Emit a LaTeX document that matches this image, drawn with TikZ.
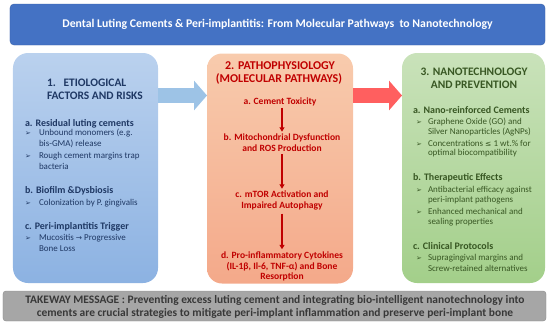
\documentclass[tikz,border=0pt]{standalone}
\usepackage{fontspec}
\setmainfont{Carlito}
\newfontfamily\symfont{DejaVu Sans}
\usetikzlibrary{arrows.meta}

\definecolor{headblue}{HTML}{4472C4}
\definecolor{bluetop}{HTML}{BAD1EE}
\definecolor{bluebot}{HTML}{8CB2E2}
\definecolor{bluetext}{HTML}{1F3864}
\definecolor{salmtop}{HTML}{F8CBAD}
\definecolor{salmbot}{HTML}{F4A98A}
\definecolor{redtext}{HTML}{C00000}
\definecolor{greentop}{HTML}{C9E2BA}
\definecolor{greenbot}{HTML}{A3CF8A}
\definecolor{greentext}{HTML}{385723}
\definecolor{arrowblue}{HTML}{9DC3E6}
\definecolor{arrowred}{HTML}{FF5F5F}
\definecolor{takegray}{HTML}{A6A6A6}

\begin{document}
\begin{tikzpicture}[x=1bp, y=-1bp, >=Stealth,
    every node/.style={inner sep=0pt, outer sep=0pt},
    panel/.style={rounded corners=15bp, minimum width=#1, minimum height=230bp},
    paneltitle/.style={font=\fontsize{11.5}{13}\selectfont\bfseries},
    heading/.style={font=\fontsize{10}{12}\selectfont\bfseries, anchor=base west},
    body/.style={font=\fontsize{9}{10}\selectfont, anchor=base west},
    bul/.style={font=\fontsize{7}{8}\selectfont\symfont, anchor=base west},
    pathstep/.style={font=\fontsize{9.6}{11}\selectfont\bfseries, text=redtext, anchor=base},
    blockarrow/.style={line width=15bp, draw=#1, -{Triangle[width=29bp, length=13bp]}}]

    \useasboundingbox (0,0) rectangle (550,324);

    % --- 1. title bar ---
    \node[fill=headblue, draw=headblue!85!black, rounded corners=4bp,
      minimum width=535bp, minimum height=41bp, text=white,
      font=\fontsize{11.8}{13}\selectfont\bfseries] (title) at (277.5,24.5)
      {Dental Luting Cements \& Peri-implantitis: From Molecular Pathways\ \ to Nanotechnology};

    % --- 2. the three panels ---
    \node[panel=145bp, top color=bluetop, bottom color=bluebot] (etiobox) at (85.5,168) {};
    \node[panel=146bp, top color=salmtop, bottom color=salmbot] (pathobox) at (280,168.5) {};
    \node[panel=143bp, top color=greentop, bottom color=greenbot] (nanobox) at (473.5,168) {};

    % --- 3. block arrows between panels ---
    \coordinate (arrowrow) at (0,95.5);
    \draw[blockarrow=arrowblue] (etiobox.east |- arrowrow) -- (pathobox.west |- arrowrow);
    \draw[blockarrow=arrowred] (pathobox.east |- arrowrow) -- (nanobox.west |- arrowrow);

    % --- 4. etiological factors ---
    \begin{scope}[every node/.append style={text=bluetext}]
      \node[paneltitle, anchor=base west] (etio1) at (47,86) {1.\ \ \ ETIOLOGICAL};
      \node[paneltitle, anchor=base west] (etio2) at (47,99) {FACTORS AND RISKS};
      \node[heading] (ea) at (25,126) {a. Residual luting cements};
      \node[heading] (eb) at (25,193) {b. Biofilm \&Dysbiosis};
      \node[heading] (ec) at (25,229) {c. Peri-implantitis Trigger};
      \foreach \y in {135,158,205,240}
        \node[bul] (eb\y) at (25,\y) {➢};
      \foreach \y/\t in {135/Unbound monomers (e.g., 146.5/bis-GMA) release,
          158/Rough cement margins trap, 169.5/bacteria,
          205/Colonization by P. gingivalis,
          240/Mucositis {\symfont\fontsize{7.5}{8}\selectfont →} Progressive, 251/Bone Loss}
        \node[body] (el\y) at (39,\y) {\t};
    \end{scope}

    % --- 5. molecular pathway chain ---
    \node[paneltitle, font=\fontsize{12}{13}\selectfont\bfseries, text=redtext, anchor=base] (patho1) at (280,69) {2. PATHOPHYSIOLOGY};
    \node[paneltitle, font=\fontsize{12}{13}\selectfont\bfseries, text=redtext, anchor=base] (patho2) at (279,82) {(MOLECULAR PATHWAYS)};
    \node[pathstep] (pa) at (280,104) {a. Cement Toxicity};
    \node[pathstep] (pb1) at (282,140.5) {b. Mitochondrial Dysfunction};
    \node[pathstep] (pb2) at (282,151) {and ROS Production};
    \node[pathstep] (pc1) at (282,197.5) {c. mTOR Activation and};
    \node[pathstep] (pc2) at (282,208.5) {Impaired Autophagy};
    \node[pathstep] (pd1) at (282,258) {d. Pro-inflammatory Cytokines};
    \node[pathstep] (pd2) at (282,269) {(IL-1β, Il-6, TNF-α) and Bone};
    \node[pathstep] (pd3) at (282,279.5) {Resorption};
    \begin{scope}[redtext, line width=1.3bp, -{Triangle[width=5bp, length=4.5bp]}]
      \draw ([yshift=-2bp]pa.south -| pb1) -- ([yshift=2bp]pb1.north);
      \draw ([yshift=-3bp]pb2.south) -- ([yshift=2bp]pc1.north);
      \draw ([yshift=-3.5bp]pc2.south) -- ([yshift=2bp]pd1.north);
    \end{scope}

    % --- 6. nanotechnology and prevention ---
    \begin{scope}[every node/.append style={text=greentext}]
      \node[paneltitle, anchor=base] (nano1) at (474,75) {3. NANOTECHNOLOGY};
      \node[paneltitle, anchor=base] (nano2) at (474,88.5) {AND PREVENTION};
      \node[heading] (na) at (413,113) {a. Nano-reinforced Cements};
      \node[heading] (nb) at (413,180.5) {b. Therapeutic Effects};
      \node[heading] (nc) at (413,249.5) {c. Clinical Protocols};
      \foreach \y in {124.5,146,192,214,260.5}
        \node[bul] (nb\y) at (416,\y) {➢};
      \foreach \y/\t in {124.5/Graphene Oxide (GO) and, 134.5/Silver Nanoparticles (AgNPs),
          146/Concentrations {\symfont\fontsize{7.5}{8}\selectfont ≤} 1 wt.\% for,
          155.5/optimal biocompatibility,
          192/Antibacterial efficacy against, 202.5/peri-implant pathogens,
          214/Enhanced mechanical and, 224.5/sealing properties,
          260.5/Supragingival margins and, 271/Screw-retained alternatives}
        \node[body] (nl\y) at (428,\y) {\t};
    \end{scope}

    % --- 7. take-away message ---
    \node[fill=takegray, draw=black!45, rounded corners=3bp, minimum width=543bp,
      minimum height=30bp] (takebox) at (274.5,306) {};
    \node[font=\fontsize{11.5}{13}\selectfont\bfseries, text=black!78, anchor=base] (take1) at (275,303)
      {TAKEWAY MESSAGE : Preventing excess luting cement and integrating bio-intelligent nanotechnology into};
    \node[font=\fontsize{11.5}{13}\selectfont\bfseries, text=black!78, anchor=base] (take2) at (275,316)
      {cements are crucial strategies to mitigate peri-implant inflammation and preserve peri-implant bone};

\end{tikzpicture}
\end{document}
